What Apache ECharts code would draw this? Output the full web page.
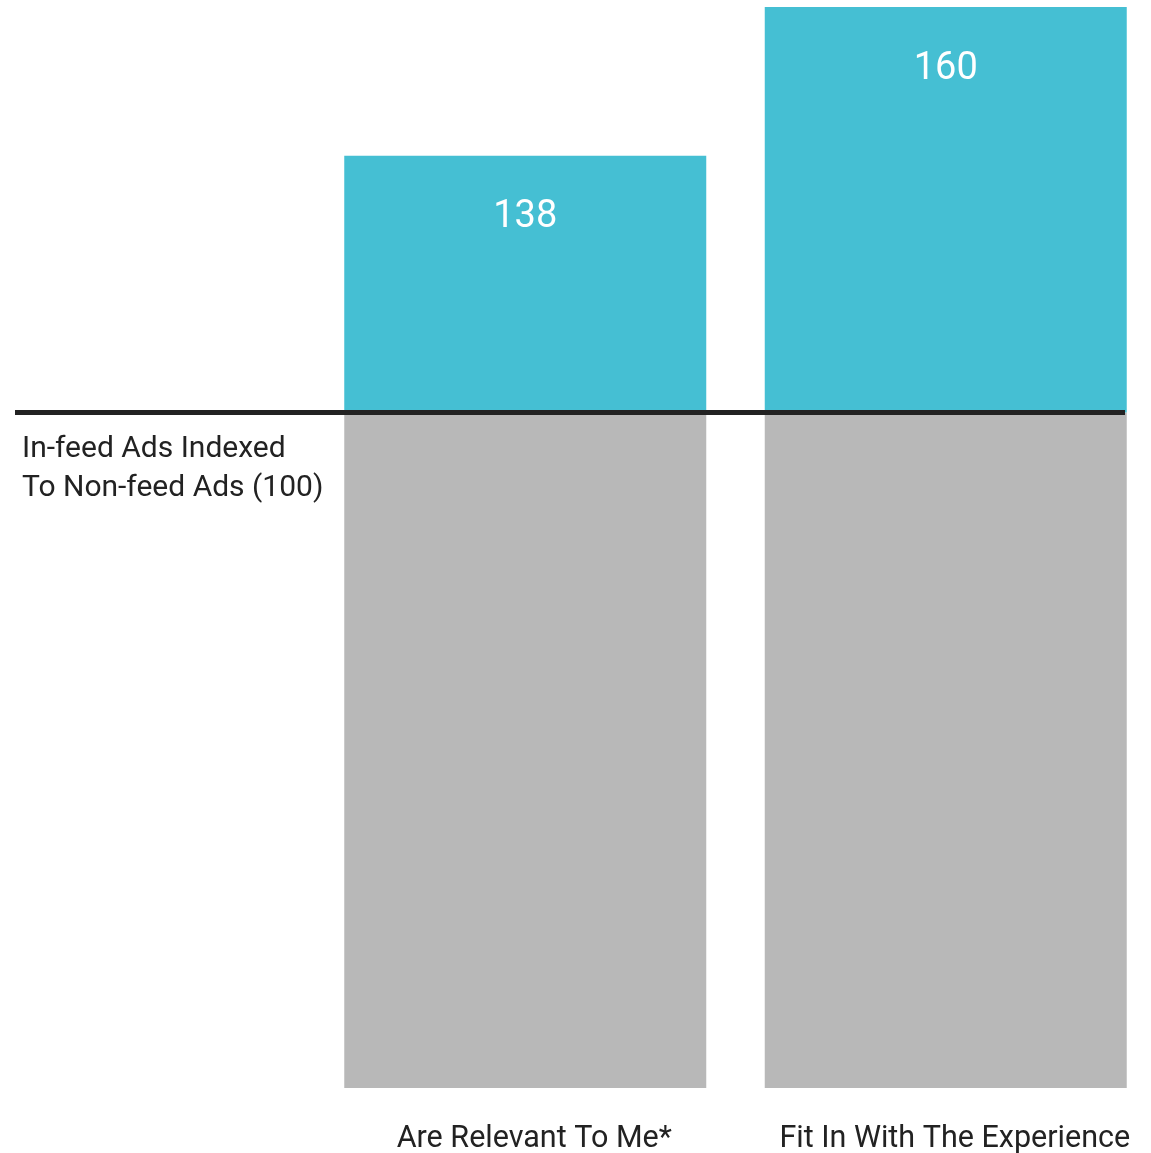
<!DOCTYPE html>
<html>
<head>
<meta charset="utf-8">
<script src="https://cdn.jsdelivr.net/npm/echarts@6/dist/echarts.min.js"></script>
<style>
  html, body { margin: 0; padding: 0; background: #fff; }
  #chart { width: 1151px; height: 1153px; }
</style>
</head>
<body>
<div id="chart"></div>
<script>
// data
var categories = ["Are Relevant To Me*", "Fit In With The Experience"];
var baseValues = [100, 100];      // non-feed ads = 100
var indexValues = [138, 160];     // in-feed ads index
var baseLabel = "In-feed Ads Indexed\nTo Non-feed Ads (100)";

// teal part = amount above the 100 baseline
var aboveValues = indexValues.map(function (v, i) { return v - baseValues[i]; });

var myChart = echarts.init(document.getElementById("chart"));

var font = "Roboto, 'Liberation Sans', sans-serif";

var option = {
  animation: false,
  title: {
    text: baseLabel,
    left: 17,
    top: 425,
    textStyle: {
      fontFamily: font,
      fontSize: 30,
      fontWeight: "normal",
      color: "#222",
      lineHeight: 39,
    },
  },
  grid: {
    left: 315,
    top: 7,
    width: 841,
    bottom: 65,
    outerBoundsMode: "none",
    containLabel: false,
  },
  xAxis: {
    type: "category",
    data: categories,
    axisLine: { show: false },
    axisTick: { show: false },
    axisLabel: {
      interval: 0,
      hideOverlap: false,
      fontFamily: font,
      fontSize: 30.5,
      color: "#222",
      margin: 36,
      padding: [0, 0, 0, 18],
    },
  },
  yAxis: {
    type: "value",
    min: 0,
    max: 160,
    show: false,
    splitLine: { show: false },
  },
  series: [
    {
      name: "Non-feed",
      type: "bar",
      stack: "total",
      barWidth: 362,
      data: baseValues,
      itemStyle: { color: "#b8b8b8" },
      markLine: {
        silent: true,
        symbol: "none",
        label: { show: false },
        lineStyle: { color: "#222", width: 5, type: "solid" },
        data: [[{ x: 15, yAxis: 100 }, { x: 1125, yAxis: 100 }]],
      },
    },
    {
      name: "In-feed",
      type: "bar",
      stack: "total",
      barWidth: 362,
      data: aboveValues,
      itemStyle: { color: "#45bfd3" },
      label: {
        show: true,
        position: "insideTop",
        distance: 43,
        color: "#fff",
        fontFamily: font,
        fontSize: 38,
        formatter: function (p) { return indexValues[p.dataIndex]; },
      },
    },
  ],
};

myChart.setOption(option);
</script>
</body>
</html>
